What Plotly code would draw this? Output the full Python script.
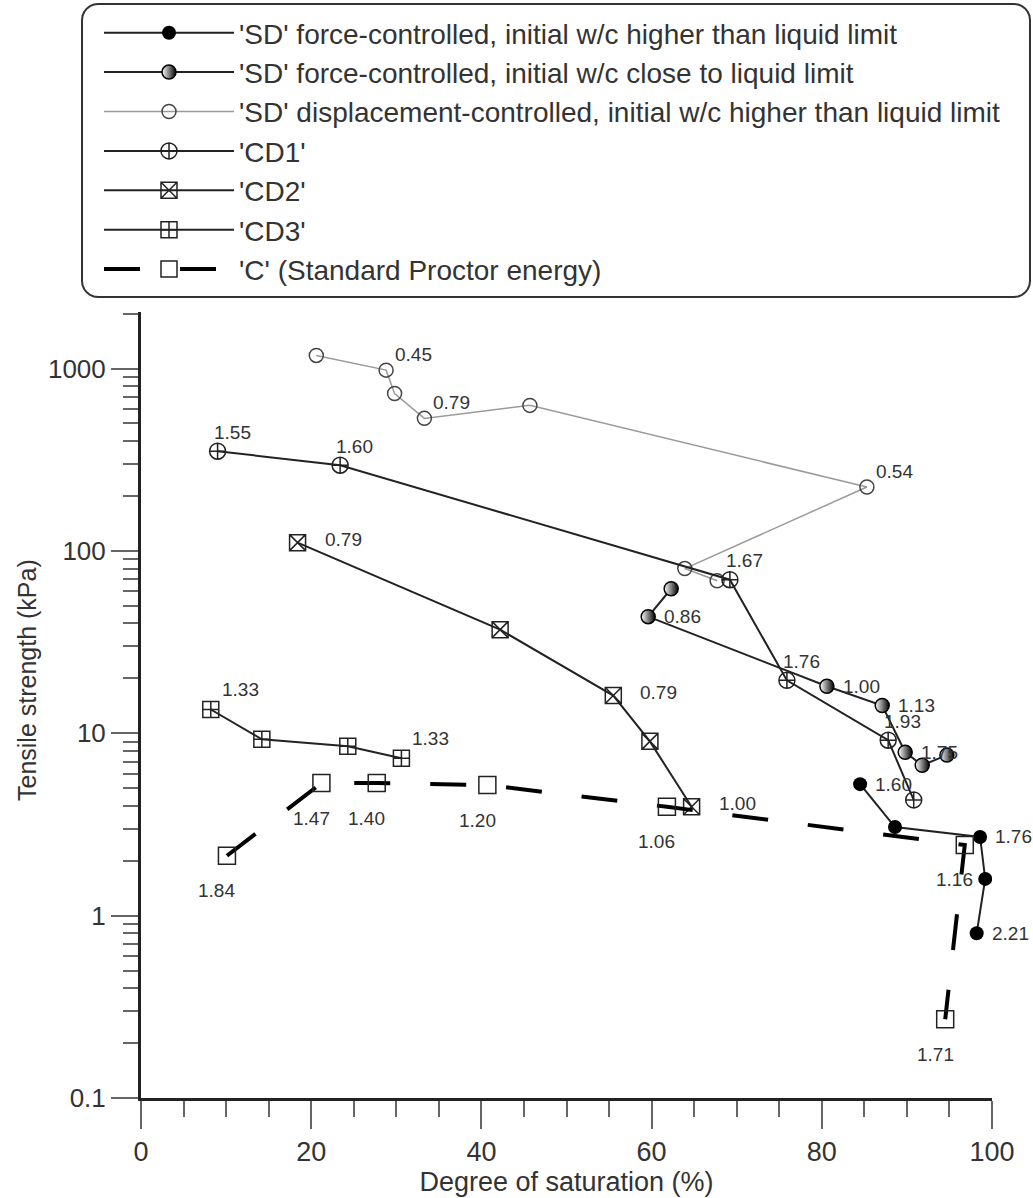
import math
import plotly.graph_objects as go

# Degree of saturation (%) / tensile strength (kPa) / void-ratio labels per series
sd_force_high_sat = [84.5, 88.6, 98.6, 99.2, 98.2]
sd_force_high_ts = [5.26, 3.06, 2.70, 1.59, 0.80]
sd_force_high_lbl = ["1.60", "", "1.76", "", "2.21"]

sd_force_close_sat = [62.3, 59.6, 80.6, 87.1, 89.8, 91.8, 94.7]
sd_force_close_ts = [62.0, 43.6, 18.1, 14.2, 7.87, 6.68, 7.59]
sd_force_close_lbl = ["", "0.86", "1.00", "1.13", "1.75", "", ""]

sd_disp_sat = [20.6, 28.8, 29.8, 33.3, 45.7, 85.3, 63.9, 67.7]
sd_disp_ts = [1180, 980, 730, 533, 628, 224, 80, 68.6]
sd_disp_lbl = ["", "0.45", "", "0.79", "", "0.54", "", ""]

cd1_sat = [9.0, 23.4, 69.2, 75.9, 87.8, 90.8]
cd1_ts = [352, 295, 69.5, 19.5, 9.16, 4.31]
cd1_lbl = ["1.55", "1.60", "1.67", "1.76", "1.93", ""]

cd2_sat = [18.4, 42.2, 55.5, 59.8, 64.7]
cd2_ts = [111, 37.0, 16.1, 9.03, 3.95]
cd2_lbl = ["0.79", "", "0.79", "", "1.00"]

cd3_sat = [8.2, 14.2, 24.3, 30.6]
cd3_ts = [13.5, 9.27, 8.49, 7.29]
cd3_lbl = ["1.33", "", "", "1.33"]

c_sat = [10.1, 21.2, 27.7, 40.7, 61.8, 96.8, 94.5]
c_ts = [2.13, 5.33, 5.33, 5.20, 3.95, 2.44, 0.27]
c_lbl = ["1.84", "1.47", "1.40", "1.20", "1.06", "1.16", "1.71"]

y_tick_vals = [0.1, 1, 10, 100, 1000]
y_tick_text = ["0.1", "1", "10", "100", "1000"]
x_tick_vals = [0, 20, 40, 60, 80, 100]

FONT = "Liberation Sans, Arial, sans-serif"
INK = "#222222"
TEXT = "#333333"

fig = go.Figure()

series = [
    dict(name="'SD' force-controlled, initial w/c higher than liquid limit",
         x=sd_force_high_sat, y=sd_force_high_ts, lbl=sd_force_high_lbl,
         line=dict(color=INK, width=2),
         marker=dict(symbol="circle", size=14, color="black"),
         lab=("left", 13, 0)),
    dict(name="'SD' force-controlled, initial w/c close to liquid limit",
         x=sd_force_close_sat, y=sd_force_close_ts, lbl=sd_force_close_lbl,
         line=dict(color=INK, width=2),
         marker=dict(symbol="circle", size=14, color="white",
                     gradient=dict(type="horizontal", color="black"),
                     line=dict(color="black", width=1.5)),
         lab=("left", 14, 0)),
    dict(name="'SD' displacement-controlled, initial w/c higher than liquid limit",
         x=sd_disp_sat, y=sd_disp_ts, lbl=sd_disp_lbl,
         line=dict(color="#9a9a9a", width=1.5),
         marker=dict(symbol="circle-open", size=14, color="#444444",
                     line=dict(width=1.5)),
         lab=("left", 7, 16)),
    dict(name="'CD1'", x=cd1_sat, y=cd1_ts, lbl=cd1_lbl,
         line=dict(color=INK, width=2),
         marker=dict(symbol="circle-cross-open", size=16, color=INK,
                     line=dict(width=1.5)),
         lab=("left", -6, 19)),
    dict(name="'CD2'", x=cd2_sat, y=cd2_ts, lbl=cd2_lbl,
         line=dict(color=INK, width=2),
         marker=dict(symbol="square-x-open", size=16, color=INK,
                     line=dict(width=1.5)),
         lab=("left", 25, 3)),
    dict(name="'CD3'", x=cd3_sat, y=cd3_ts, lbl=cd3_lbl,
         line=dict(color=INK, width=2),
         marker=dict(symbol="square-cross-open", size=16, color=INK,
                     line=dict(width=1.5)),
         lab=("left", 9, 20)),
    dict(name="'C' (Standard Proctor energy)", x=c_sat, y=c_ts, lbl=c_lbl,
         line=dict(color="black", width=4, dash="36px,40px"),
         marker=dict(symbol="square-open", size=17, color=INK,
                     line=dict(width=1.5)),
         lab=("center", -10, -35)),
]

annotations = []
for s in series:
    fig.add_trace(go.Scatter(
        x=s["x"], y=s["y"], name=s["name"], mode="lines+markers",
        line=s["line"], marker=s["marker"], showlegend=True,
    ))
    xanchor, dx, dy = s["lab"]
    for xv, yv, txt in zip(s["x"], s["y"], s["lbl"]):
        if not txt:
            continue
        annotations.append(dict(
            x=xv, y=math.log10(yv), xref="x", yref="y", text=txt,
            showarrow=False, xanchor=xanchor, yanchor="middle",
            xshift=dx, yshift=dy,
            font=dict(family=FONT, size=19, color=TEXT),
        ))

# plot area in pixels, used to place the rounded legend frame and y title
L, R, T, B = 141, 992, 312, 1098
W, H = 1033, 1198


def px_to_paper(px, py):
    return (px - L) / (R - L), (B - py) / (B - T)


def rounded_box(x0, y0, x1, y1, r):
    pts = []
    for cx, cy, a0 in [(x1 - r, y0 + r, -90), (x1 - r, y1 - r, 0),
                       (x0 + r, y1 - r, 90), (x0 + r, y0 + r, 180)]:
        for k in range(0, 91, 15):
            a = math.radians(a0 + k)
            pts.append(px_to_paper(cx + r * math.cos(a), cy + r * math.sin(a)))
    return "M " + " L ".join(f"{a:.5f},{b:.5f}" for a, b in pts) + " Z"


ytitle_x, ytitle_y = px_to_paper(27, 680)
annotations.append(dict(
    x=ytitle_x, y=ytitle_y, xref="paper", yref="paper",
    text="Tensile strength (kPa)", textangle=-90, showarrow=False,
    xanchor="center", yanchor="middle",
    font=dict(family=FONT, size=25, color=TEXT),
))

minor_y = [m * 10 ** e for e in range(-1, 4) for m in range(2, 10)]

fig.update_layout(
    width=W, height=H,
    margin=dict(l=L, r=W - R, t=T, b=H - B, autoexpand=False),
    paper_bgcolor="white", plot_bgcolor="white",
    font=dict(family=FONT, color=TEXT),
    showlegend=True,
    legend=dict(
        xref="container", yref="container", x=99 / W, y=1 - 8 / H,
        xanchor="left", yanchor="top",
        font=dict(family=FONT, size=28, color=TEXT),
        itemwidth=130, bgcolor="rgba(0,0,0,0)", borderwidth=0,
        tracegroupgap=0,
    ),
    xaxis=dict(
        range=[0, 100], tickvals=x_tick_vals, ticks="outside", ticklen=28,
        tickwidth=1.5, tickcolor="#666666", showline=True, linecolor=INK,
        linewidth=2.5, showgrid=False, zeroline=False,
        tickfont=dict(family=FONT, size=27, color=TEXT),
        minor=dict(dtick=5, ticks="outside", ticklen=16, tickwidth=1.5,
                   tickcolor="#666666", showgrid=False),
        title=dict(text="Degree of saturation (%)", standoff=6,
                   font=dict(family=FONT, size=27, color=TEXT)),
    ),
    yaxis=dict(
        type="log", range=[-1, 3.31], tickvals=y_tick_vals, ticktext=y_tick_text,
        ticks="outside", ticklen=27, tickwidth=1.5, tickcolor="#666666",
        showline=True, linecolor=INK, linewidth=3, showgrid=False,
        zeroline=False,
        tickfont=dict(family=FONT, size=26, color=TEXT),
        minor=dict(tickvals=minor_y, ticks="outside", ticklen=15, tickwidth=1.5,
                   tickcolor="#666666", showgrid=False),
    ),
    annotations=annotations,
    shapes=[dict(type="path", xref="paper", yref="paper",
                 path=rounded_box(82, 4, 1030, 297, 16),
                 line=dict(color=TEXT, width=2), layer="below")],
)

fig.write_html("out.html")
